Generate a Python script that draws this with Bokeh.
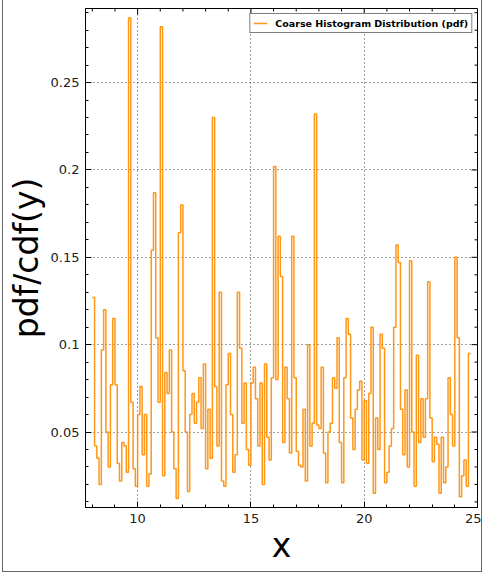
import numpy as np
from bokeh.plotting import figure
from bokeh.models import Range1d, FixedTicker
from bokeh.embed import file_html
from bokeh.resources import INLINE

# ---------------- data ----------------
bin_start = 8.0
bin_width = 0.1
pdf_values = [
    0.127, 0.042, 0.035, 0.020, 0.097, 0.120, 0.050, 0.030, 0.077, 0.115,   # 8.0 - 8.9
    0.077, 0.032, 0.022, 0.044, 0.042, 0.027, 0.287, 0.067, 0.029, 0.019,   # 9.0 - 9.9
    0.060, 0.076, 0.037, 0.060, 0.019, 0.026, 0.154, 0.187, 0.104, 0.067,   # 10.0 - 10.9
    0.282, 0.025, 0.084, 0.072, 0.097, 0.050, 0.029, 0.012, 0.164, 0.180,   # 11.0 - 11.9
    0.085, 0.050, 0.016, 0.060, 0.072, 0.055, 0.067, 0.081, 0.052, 0.089,   # 12.0 - 12.9
    0.029, 0.063, 0.035, 0.230, 0.076, 0.042, 0.130, 0.022, 0.019, 0.077,   # 13.0 - 13.9
    0.095, 0.060, 0.027, 0.037, 0.130, 0.098, 0.055, 0.078, 0.040, 0.031,   # 14.0 - 14.9
    0.078, 0.087, 0.069, 0.042, 0.078, 0.020, 0.089, 0.047, 0.034, 0.081,   # 15.0 - 15.9
    0.202, 0.080, 0.162, 0.139, 0.044, 0.087, 0.069, 0.038, 0.162, 0.081,   # 16.0 - 16.9
    0.039, 0.031, 0.030, 0.063, 0.022, 0.100, 0.042, 0.055, 0.232, 0.054,   # 17.0 - 17.9
    0.052, 0.087, 0.038, 0.021, 0.050, 0.055, 0.081, 0.075, 0.104, 0.044,   # 18.0 - 18.9
    0.021, 0.081, 0.115, 0.106, 0.058, 0.040, 0.063, 0.074, 0.079, 0.034,   # 19.0 - 19.9
    0.068, 0.032, 0.072, 0.110, 0.015, 0.058, 0.040, 0.106, 0.098, 0.021,   # 20.0 - 20.9
    0.027, 0.042, 0.052, 0.110, 0.157, 0.147, 0.063, 0.037, 0.074, 0.030,   # 21.0 - 21.9
    0.148, 0.050, 0.019, 0.094, 0.044, 0.069, 0.047, 0.069, 0.136, 0.058,   # 22.0 - 22.9
    0.033, 0.047, 0.043, 0.015, 0.047, 0.021, 0.030, 0.081, 0.060, 0.042,   # 23.0 - 23.9
    0.150, 0.104, 0.013, 0.025, 0.034, 0.019, 0.095,                        # 24.0 - 24.6
]
x_major_ticks = [10, 15, 20, 25]
x_minor_ticks = list(range(8, 26))
y_major_ticks = [0.05, 0.10, 0.15, 0.20, 0.25]
y_tick_labels = ["0.05", "0.1", "0.15", "0.2", "0.25"]
y_minor_ticks = [round(0.01 * k, 2) for k in range(1, 30)]
legend_label = "Coarse Histogram Distribution (pdf)"
x_label = "x"
y_label = "pdf/cdf(y)"

# ---------------- layout ----------------
X0, X1 = 7.7, 25.0
Y0, Y1 = 0.0068, 0.2924
W, H = 480, 572
BL, BR, BT, BB = 82, 6, 8, 65
FRAME_W = W - BL - BR
FRAME_H = H - BT - BB

edges = bin_start + bin_width * np.arange(len(pdf_values) + 1)
ys = pdf_values + [pdf_values[-1]]

FONT = "DejaVu Sans"
ORANGE = "#ff8c00"
MAJ, MIN = 6, 3

p = figure(
    width=W, height=H,
    x_range=Range1d(X0, X1), y_range=Range1d(Y0, Y1),
    output_backend="svg", toolbar_location=None,
    min_border_left=BL, min_border_right=BR, min_border_top=BT, min_border_bottom=BB,
)
p.background_fill_color = "white"
p.border_fill_color = "white"
p.outline_line_color = "black"
p.outline_line_width = 1

xt = FixedTicker(ticks=x_major_ticks, minor_ticks=x_minor_ticks)
yt = FixedTicker(ticks=y_major_ticks, minor_ticks=y_minor_ticks)

for g, t in ((p.xgrid[0], xt), (p.ygrid[0], yt)):
    g.ticker = t
    g.grid_line_color = "#444444"
    g.grid_line_dash = "1 3"
    g.grid_line_width = 1

p.step(edges, ys, mode="after", line_color=ORANGE, line_width=1.5, line_alpha=0.9,
       legend_label=legend_label)

# ticks on the top and right edges (inward), like the left/bottom axes
dy = (Y1 - Y0) / FRAME_H
dx = (X1 - X0) / FRAME_W
xm = np.array(x_major_ticks, float)
xn = np.array([t for t in x_minor_ticks if t not in x_major_ticks], float)
ym = np.array(y_major_ticks, float)
yn = np.array([t for t in y_minor_ticks if round(t, 2) not in [round(v, 2) for v in y_major_ticks]], float)
p.segment(x0=xm, y0=np.full(len(xm), Y1), x1=xm, y1=np.full(len(xm), Y1 - MAJ * dy), line_color="black", line_width=1)
p.segment(x0=xn, y0=np.full(len(xn), Y1), x1=xn, y1=np.full(len(xn), Y1 - MIN * dy), line_color="black", line_width=1)
p.segment(x0=np.full(len(ym), X1), y0=ym, x1=np.full(len(ym), X1 - MAJ * dx), y1=ym, line_color="black", line_width=1)
p.segment(x0=np.full(len(yn), X1), y0=yn, x1=np.full(len(yn), X1 - MIN * dx), y1=yn, line_color="black", line_width=1)

def style_axis(ax):
    ax.axis_line_color = "black"
    ax.major_tick_line_color = "black"
    ax.minor_tick_line_color = "black"
    ax.major_tick_in = MAJ
    ax.major_tick_out = 0
    ax.minor_tick_in = MIN
    ax.minor_tick_out = 0
    ax.major_label_text_font = FONT
    ax.major_label_text_color = "#222222"
    ax.major_label_text_font_size = "13px"
    ax.axis_label_text_font = FONT
    ax.axis_label_text_font_size = "33px"
    ax.axis_label_text_font_style = "normal"
    ax.axis_label_text_color = "black"

xa = p.xaxis[0]
xa.ticker = xt
style_axis(xa)
xa.major_label_standoff = 6
xa.axis_label = x_label
xa.axis_label_standoff = 0

ya = p.yaxis[0]
ya.ticker = yt
style_axis(ya)
ya.major_label_standoff = 6
ya.major_label_overrides = {t: s for t, s in zip(y_major_ticks, y_tick_labels)}
ya.axis_label = y_label
ya.axis_label_standoff = 2

lg = p.legend[0]
lg.location = "top_right"
lg.margin = 5
lg.padding = 3
lg.spacing = 0
lg.border_line_color = "black"
lg.border_line_width = 1
lg.background_fill_color = "white"
lg.background_fill_alpha = 1
lg.label_text_font = FONT
lg.label_text_font_size = "9.5px"
lg.label_text_font_style = "bold"
lg.label_text_color = "black"
lg.glyph_width = 14
lg.glyph_height = 12
lg.label_height = 12
lg.label_standoff = 8

p.styles = {
    "margin-left": "2px",
    "border-left": "1.5px solid #666666",
    "border-right": "1.5px solid #666666",
    "border-bottom": "1.5px solid #666666",
}

open("out.html", "w").write(file_html(p, INLINE))
